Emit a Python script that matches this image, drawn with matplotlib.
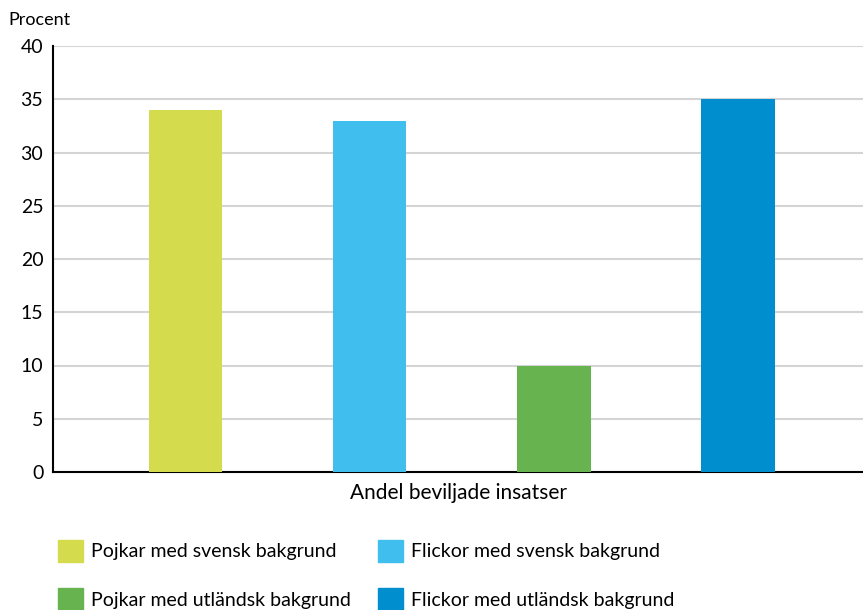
import numpy as np
import matplotlib
matplotlib.use("Agg")
import matplotlib.pyplot as plt
from matplotlib.patches import Patch

plt.rcParams['font.family'] = ['Lato', 'DejaVu Sans']

# Data
series = ['Pojkar med svensk bakgrund', 'Flickor med svensk bakgrund',
          'Pojkar med utländsk bakgrund', 'Flickor med utländsk bakgrund']
values = [34, 33, 10, 35]
colors = ['#d4dc4e', '#40bfef', '#66b34f', '#008ecf']
yticks = [0, 5, 10, 15, 20, 25, 30, 35, 40]

fig = plt.figure(figsize=(8.63, 6.10), dpi=100)
ax = fig.add_axes([53/863, 1 - 472/610, 1 - 53/863, (472 - 46)/610])

x = np.arange(len(values))
ax.bar(x, values, width=0.40, color=colors, zorder=3)

ax.set_ylim(0, 40)
ax.set_xlim(-0.72, 3.68)
ax.set_yticks(yticks)
ax.set_yticklabels([str(t) for t in yticks], fontsize=14)
ax.set_xticks([])
ax.yaxis.grid(True, color='#d4d4d4', linewidth=1.5, zorder=0)
ax.tick_params(axis='y', length=0, pad=7)
for s in ['top', 'right']:
    ax.spines[s].set_visible(False)
ax.spines['left'].set_linewidth(1.5)
ax.spines['bottom'].set_linewidth(1.5)

fig.text(8/863, 1 - 20/610, 'Procent', fontsize=13, va='center', ha='left')
ax.set_xlabel('Andel beviljade insatser', fontsize=15, labelpad=8)

# legend: reorder so columns read as in the original (row-wise)
order = [0, 2, 1, 3]
handles = [Patch(color=colors[i]) for i in order]
labels = [series[i] for i in order]
fig.legend(handles, labels, ncol=2, loc='upper left',
           bbox_to_anchor=(50/863, 1 - 532/610), frameon=False,
           fontsize=14, handlelength=1.3, handleheight=1.4,
           handletextpad=0.4, columnspacing=1.4, labelspacing=1.35,
           borderaxespad=0)

fig.savefig('out.png', dpi=100)
